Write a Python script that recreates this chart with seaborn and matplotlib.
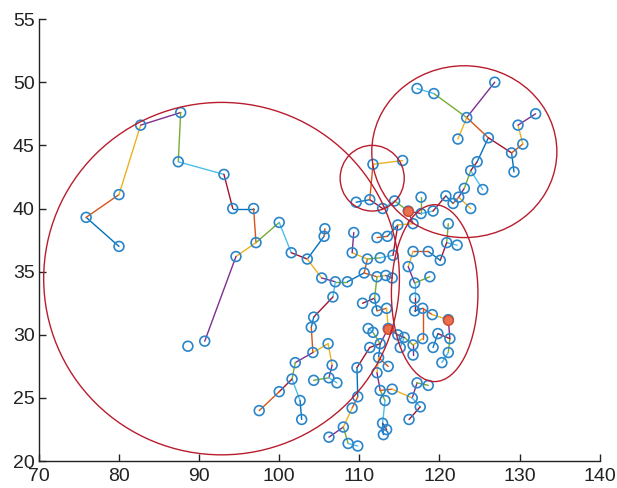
import matplotlib
matplotlib.use("Agg")
import matplotlib.pyplot as plt
from matplotlib.patches import Ellipse
import seaborn as sns
import pandas as pd

# node positions
node_x = [80.0, 75.9, 80.0, 82.7, 87.7, 87.4, 93.1, 94.2, 96.8, 97.1,
          94.6, 90.7, 88.6, 100.0, 101.5, 103.5, 105.7, 105.6, 105.3, 107.0,
          108.5, 106.7, 104.3, 104.0, 106.1, 104.2, 102.0, 101.6, 102.6, 102.8,
          100.0, 97.5, 106.6, 104.3, 106.2, 107.2, 109.7, 109.8, 109.1, 108.0,
          106.2, 108.6, 109.8, 110.4, 111.9, 112.2, 113.4, 111.1, 111.7, 112.6,
          111.3, 112.4, 113.6, 112.2, 112.6, 113.2, 112.9, 113.4, 113.0, 114.1,
          113.6, 114.8, 115.6, 116.7, 116.7, 117.9, 119.2, 119.8, 121.3, 121.1,
          120.3, 121.1, 116.9, 117.9, 119.1, 116.9, 116.9, 118.8, 116.1, 116.7,
          118.6, 120.1, 120.9, 122.2, 121.1, 117.2, 118.6, 116.6, 117.6, 116.2,
          115.1, 109.1, 111.0, 112.6, 114.2, 110.6, 112.2, 113.3, 114.1, 112.2,
          113.5, 109.3, 114.8, 116.7, 116.1, 114.4, 117.7, 117.7, 119.2, 112.9,
          111.3, 109.6, 111.7, 115.4, 120.8, 121.7, 122.4, 123.9, 123.1, 125.4,
          123.9, 124.7, 126.1, 123.4, 122.3, 126.9, 119.3, 117.2, 129.0, 129.3,
          130.4, 129.8, 132.0]
node_y = [37.0, 39.3, 41.1, 46.6, 47.6, 43.7, 42.7, 40.0, 40.0, 37.3,
          36.2, 29.5, 29.1, 38.9, 36.5, 36.0, 38.4, 37.8, 34.5, 34.2,
          34.2, 33.0, 31.4, 30.6, 29.3, 28.6, 27.8, 26.5, 24.8, 23.3,
          25.5, 24.0, 27.6, 26.4, 26.6, 26.2, 27.4, 25.1, 24.2, 22.7,
          21.9, 21.4, 21.2, 32.5, 32.9, 31.9, 32.1, 30.5, 30.2, 29.3,
          29.0, 28.2, 27.5, 27.0, 25.6, 24.8, 23.0, 22.5, 22.1, 25.7,
          30.5, 30.0, 29.8, 29.2, 28.4, 29.7, 29.0, 30.1, 29.7, 28.6,
          27.8, 31.2, 31.9, 32.1, 31.6, 32.9, 34.1, 34.6, 35.4, 36.6,
          36.6, 35.9, 37.3, 37.1, 38.8, 26.2, 26.0, 25.0, 24.3, 23.3,
          29.0, 36.5, 36.0, 36.1, 36.3, 34.9, 34.6, 34.7, 34.5, 37.7,
          37.8, 38.1, 38.7, 38.8, 39.8, 40.6, 39.6, 40.9, 39.8, 40.0,
          40.7, 40.5, 43.5, 43.8, 41.0, 40.4, 40.9, 40.0, 41.6, 41.5,
          43.0, 43.7, 45.6, 47.2, 45.5, 50.0, 49.1, 49.5, 44.4, 42.9,
          45.1, 46.6, 47.5]

# tree links (node index pairs)
edge_a = [0, 1, 2, 3, 4, 5, 6, 7, 8, 9, 10, 9, 13, 14, 15, 17, 15, 18, 19, 19,
          21, 22, 23, 25, 25, 26, 27, 27, 28, 30, 24, 32, 34, 34, 50, 36, 37, 38,
          39, 39, 41, 44, 44, 45, 46, 60, 49, 48, 49, 49, 51, 51, 53, 54, 55, 56,
          56, 54, 59, 87, 85, 87, 88, 20, 95, 92, 91, 92, 93, 94, 102, 100, 102,
          103, 104, 105, 109, 110, 110, 112, 104, 106, 106, 108, 114, 115, 116,
          116, 118, 120, 120, 121, 122, 123, 123, 123, 126, 122, 128, 128, 130,
          131, 84, 82, 82, 81, 80, 79, 78, 76, 76, 75, 72, 73, 74, 71, 68, 69,
          68, 67, 73, 65, 63, 63, 62, 62, 61, 95, 96, 97, 96]
edge_b = [1, 2, 3, 4, 5, 6, 7, 8, 9, 10, 11, 13, 14, 15, 17, 16, 18, 19, 20,
          21, 22, 23, 25, 24, 26, 27, 28, 30, 29, 31, 32, 34, 33, 35, 36, 37,
          38, 39, 40, 41, 42, 43, 45, 46, 60, 49, 48, 47, 50, 51, 52, 53, 54,
          55, 56, 57, 58, 59, 87, 85, 86, 88, 89, 95, 92, 91, 101, 93, 94, 102,
          100, 99, 103, 104, 105, 109, 110, 111, 112, 113, 106, 107, 108, 114,
          115, 116, 117, 118, 120, 119, 121, 122, 123, 124, 125, 126, 127, 128,
          129, 130, 131, 132, 82, 83, 81, 80, 79, 78, 76, 77, 75, 72, 73, 74,
          71, 68, 69, 70, 67, 66, 65, 63, 64, 62, 90, 61, 60, 96, 97, 98, 44]

# highlighted (filled) nodes
hub_nodes = [104, 60, 71]

# cluster outlines: centre x, centre y, width, height
ell_x = [92.8, 111.6, 123.1, 119.4]
ell_y = [34.45, 42.4, 44.5, 33.3]
ell_w = [44.4, 8.0, 23.1, 10.8]
ell_h = [27.9, 5.2, 13.6, 14.0]

matlab_colors = ["#0072bd", "#d95319", "#edb120", "#7e2f8e",
                 "#77ac30", "#4dbeee", "#a2142f"]

sns.set_style("ticks")
plt.rcParams["font.family"] = ["Liberation Sans", "DejaVu Sans"]

fig = plt.figure(figsize=(6.17, 4.88), dpi=100)
ax = fig.add_axes([0.063, 0.055, 0.909, 0.906])

rows = []
for k, (a, b) in enumerate(zip(edge_a, edge_b)):
    rows.append({"edge": k, "x": node_x[a], "y": node_y[a]})
    rows.append({"edge": k, "x": node_x[b], "y": node_y[b]})
edges = pd.DataFrame(rows)
pal = [matlab_colors[k % len(matlab_colors)] for k in range(len(edge_a))]
sns.lineplot(data=edges, x="x", y="y", hue="edge", palette=pal,
             estimator=None, sort=False, legend=False, lw=1.0, ax=ax, zorder=1)

nodes = pd.DataFrame({"x": node_x, "y": node_y})
sns.scatterplot(data=nodes, x="x", y="y", marker="o", s=50,
                facecolors="none", edgecolor="#2a85c9", linewidth=1.2,
                ax=ax, zorder=2)

hubs = nodes.iloc[hub_nodes]
sns.scatterplot(data=hubs, x="x", y="y", marker="o", s=48,
                color="#ea6f4b", edgecolor="#d4472f", linewidth=1.0,
                ax=ax, zorder=3)

for cx, cy, w, h in zip(ell_x, ell_y, ell_w, ell_h):
    ax.add_patch(Ellipse((cx, cy), w, h, fill=False, edgecolor="#b81d2e",
                         lw=1.0, zorder=4))

ax.set_xlim(70, 140)
ax.set_ylim(20, 55)
ax.set_xticks(range(70, 141, 10))
ax.set_yticks(range(20, 56, 5))
ax.set_xlabel("")
ax.set_ylabel("")
ax.tick_params(direction="in", length=5, width=1, labelsize=14,
               colors="#222222")
ax.tick_params(axis="x", pad=5)
ax.tick_params(axis="y", pad=3)
for lbl in ax.get_yticklabels():
    lbl.set_verticalalignment("center_baseline")
sns.despine(ax=ax)
for s in ["left", "bottom"]:
    ax.spines[s].set_color("#222222")
    ax.spines[s].set_linewidth(1.0)

fig.savefig("out.png", dpi=100)
